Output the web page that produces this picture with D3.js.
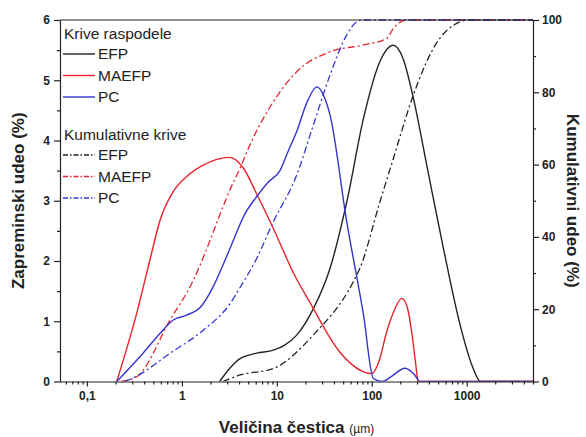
<!DOCTYPE html>
<html>
<head>
<meta charset="utf-8">
<script src="https://cdn.jsdelivr.net/npm/d3@7"></script>
<style>
  body { margin: 0; background: #fff; }
  svg { display: block; font-family: "Liberation Sans", Arial, sans-serif; }
  .axis path, .axis line { stroke: #222; stroke-width: 1.2; }
  .axis text { font-size: 12px; font-weight: bold; fill: #222; }
  .title { font-size: 17px; font-weight: bold; fill: #222; }
  .legend text { font-size: 15.5px; fill: #222; }
</style>
</head>
<body>
<div id="chart"></div>
<script>
// particle size in µm, value in %
const efpDist = [[2.5,0],[3.2,0.22],[4.1,0.38],[6.15,0.47],[9.2,0.52],[12,0.6],[16.2,0.77],[24.3,1.21],[36.4,1.88],[54.6,2.98],[82,4.37],[122,5.31],[169,5.58],[215,5.35],[275,4.7],[380,3.59],[569,2.21],[853,0.94],[1150,0.25],[1400,0],[5000,0]];
const maefpDist = [[0.206,0],[0.334,1.13],[0.461,2.02],[0.59,2.68],[0.81,3.15],[1.12,3.4],[1.68,3.59],[2.52,3.7],[3.21,3.72],[4.45,3.54],[6.2,3.1],[9.2,2.54],[15,1.8],[24.3,1.21],[34,0.8],[46,0.49],[62,0.28],[82,0.16],[100,0.13],[120,0.35],[144,0.83],[175,1.2],[207,1.38],[235,1.25],[265,0.8],[290,0.3],[309,0],[5000,0]];
const pcDist = [[0.206,0],[0.39,0.47],[0.59,0.8],[0.81,1.02],[1.12,1.1],[1.6,1.25],[2.1,1.55],[2.74,1.95],[3.5,2.35],[4.5,2.75],[6.15,3.07],[8,3.3],[10.8,3.5],[13,3.8],[16.2,4.15],[21,4.65],[26.4,4.89],[30,4.8],[36.4,4.42],[54.6,2.65],[82,1.1],[104,0.05],[130,0],[160,0.08],[224,0.22],[280,0.12],[323,0],[5000,0]];

const efpCum = [[2.7,0],[4.1,1.8],[9.2,3.6],[24.3,12.9],[64,27.6],[75,31.3],[122,49.7],[169,61.7],[275,79.3],[447,92.2],[853,99.5],[1000,100],[5000,100]];
const maefpCum = [[0.23,0],[0.334,1.3],[0.75,17],[1.32,28],[1.98,39],[2.5,46],[3.21,53],[4.1,59],[5.2,65.4],[9.2,77.4],[16.2,85.7],[36.4,91.2],[82,93.1],[144,94.9],[169,97.7],[234,100],[5000,100]];
const pcCum = [[0.25,0],[0.334,1.5],[0.75,7.8],[1.68,14.2],[3.21,21.5],[4.1,26],[6.15,34.1],[9.2,44.2],[16.2,57.1],[24.3,71],[36.4,84.8],[54.6,95.9],[69.5,99.5],[78,100],[5000,100]];

const xTicks = [0.1, 1, 10, 100, 1000];
const xTickLabels = ["0,1", "1", "10", "100", "1000"];
const yLeftTicks = [0, 1, 2, 3, 4, 5, 6];
const yRightTicks = [0, 20, 40, 60, 80, 100];

const distNames = ["EFP", "MAEFP", "PC"];
const COLOR = { EFP: "#222222", MAEFP: "#e8232b", PC: "#3434d0" };

const W = 586, H = 437;
const margin = { top: 20, right: 53, bottom: 55.5, left: 60 };
const width = W - margin.left - margin.right;
const height = H - margin.top - margin.bottom;

const svg = d3.select("#chart").append("svg").attr("width", W).attr("height", H);
const g = svg.append("g").attr("transform", `translate(${margin.left},${margin.top})`);

const x = d3.scaleLog().domain([0.052, 5000]).range([0, width]);
const yL = d3.scaleLinear().domain([0, 6]).range([height, 0]);
const yR = d3.scaleLinear().domain([0, 100]).range([height, 0]);

// minor ticks: 2..9 of every decade inside the domain
const xMinor = [];
for (let e = -2; e <= 3; e++) for (let m = 2; m <= 9; m++) {
  const v = m * Math.pow(10, e);
  if (v >= 0.052 && v <= 5000) xMinor.push(v);
}

// clip so curves never leave the frame
svg.append("clipPath").attr("id", "clip").append("rect").attr("width", width).attr("height", height + 1).attr("y", -1);
const plot = g.append("g").attr("clip-path", "url(#clip)");

const lineL = d3.line().x(d => x(d[0])).y(d => yL(d[1])).curve(d3.curveMonotoneX);
const lineR = d3.line().x(d => x(d[0])).y(d => yR(d[1])).curve(d3.curveMonotoneX);

const dashdot = "7,3,2,3";
const cums = { EFP: efpCum, MAEFP: maefpCum, PC: pcCum };
const dists = { EFP: efpDist, MAEFP: maefpDist, PC: pcDist };

distNames.forEach(n => {
  plot.append("path").datum(cums[n]).attr("fill", "none").attr("stroke", COLOR[n])
    .attr("stroke-width", 1.3).attr("stroke-dasharray", dashdot).attr("d", lineR);
});
distNames.forEach(n => {
  plot.append("path").datum(dists[n]).attr("fill", "none").attr("stroke", COLOR[n])
    .attr("stroke-width", 1.4).attr("d", lineL);
});

// frame top line
g.append("line").attr("x1", 0).attr("x2", width).attr("y1", 0).attr("y2", 0)
  .attr("stroke", "#222").attr("stroke-width", 1.2);

// axes
g.append("g").attr("class", "axis").attr("transform", `translate(0,${height})`)
  .call(d3.axisBottom(x).tickValues(xTicks).tickFormat((d, i) => xTickLabels[i]).tickSize(5).tickPadding(5).tickSizeOuter(0));
g.append("g").attr("class", "axis").attr("transform", `translate(0,${height})`)
  .call(d3.axisBottom(x).tickValues(xMinor).tickFormat("").tickSize(3).tickSizeOuter(0))
  .select(".domain").remove();

g.append("g").attr("class", "axis")
  .call(d3.axisLeft(yL).tickValues(yLeftTicks).tickFormat(d3.format("d")).tickSize(6).tickPadding(4).tickSizeOuter(0));
g.append("g").attr("class", "axis")
  .call(d3.axisLeft(yL).tickValues(d3.range(0.5, 6, 1)).tickFormat("").tickSize(3).tickSizeOuter(0))
  .select(".domain").remove();

g.append("g").attr("class", "axis").attr("transform", `translate(${width},0)`)
  .call(d3.axisRight(yR).tickValues(yRightTicks).tickSize(6).tickPadding(3).tickSizeOuter(0));
g.append("g").attr("class", "axis").attr("transform", `translate(${width},0)`)
  .call(d3.axisRight(yR).tickValues(d3.range(10, 100, 20)).tickFormat("").tickSize(3).tickSizeOuter(0))
  .select(".domain").remove();

// axis titles
svg.append("text").attr("class", "title").attr("text-anchor", "middle")
  .attr("transform", `translate(24,${margin.top + height / 2}) rotate(-90)`)
  .text("Zapreminski udeo (%)");
svg.append("text").attr("class", "title").attr("text-anchor", "middle")
  .attr("transform", `translate(567,${margin.top + height / 2}) rotate(90)`)
  .text("Kumulativni udeo (%)");
const xt = svg.append("text").attr("class", "title").attr("text-anchor", "middle")
  .attr("x", margin.left + width / 2).attr("y", 433);
xt.append("tspan").text("Veličina čestica ");
xt.append("tspan").attr("font-size", 12).attr("font-weight", "normal").text("(µm)");

// legend
const leg = g.append("g").attr("class", "legend");
function legendBlock(title, top, dash) {
  leg.append("text").attr("x", 4).attr("y", top).attr("dy", "0.35em").text(title);
  distNames.forEach((n, i) => {
    const yy = top + 20 + i * 21.5;
    leg.append("line").attr("x1", 3).attr("x2", 35).attr("y1", yy).attr("y2", yy)
      .attr("stroke", COLOR[n]).attr("stroke-width", 1.4).attr("stroke-dasharray", dash);
    leg.append("text").attr("x", 38).attr("y", yy).attr("dy", "0.35em").text(n);
  });
}
legendBlock("Krive raspodele", 14, null);
legendBlock("Kumulativne krive", 115, "5,2,1.5,2");
</script>
</body>
</html>
